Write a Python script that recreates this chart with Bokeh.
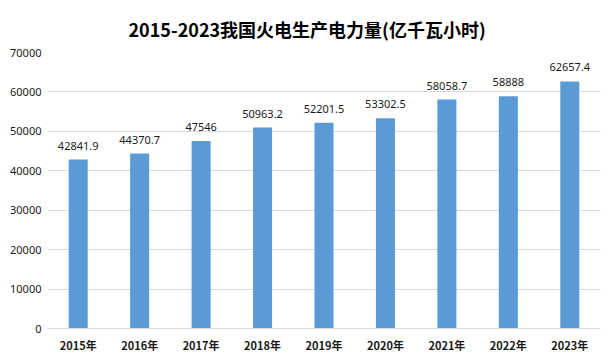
from bokeh.plotting import figure
from bokeh.models import ColumnDataSource, FactorRange, Range1d, LabelSet, FixedTicker, Title
from bokeh.core.properties import value
from bokeh.embed import file_html
from bokeh.resources import INLINE

years = ["2015年", "2016年", "2017年", "2018年", "2019年", "2020年", "2021年", "2022年", "2023年"]
values = [42841.9, 44370.7, 47546, 50963.2, 52201.5, 53302.5, 58058.7, 58888, 62657.4]
labels = ["42841.9", "44370.7", "47546", "50963.2", "52201.5", "53302.5", "58058.7", "58888", "62657.4"]
y_ticks = [0, 10000, 20000, 30000, 40000, 50000, 60000, 70000]
title_text = "2015-2023我国火电生产电力量(亿千瓦小时)"

src = ColumnDataSource(dict(x=years, y=values, lab=labels))

p = figure(width=604, height=355, output_backend="svg", toolbar_location=None,
           x_range=FactorRange(*years, range_padding=0), y_range=Range1d(0, 70000),
           min_border_left=47, min_border_right=4, min_border_top=52, min_border_bottom=26)
p.title = Title(text=title_text, align="left", vertical_align="top", text_font="Noto Sans CJK SC",
                text_font_size="18px", text_font_style="bold", text_color="#000000",
                offset=81, standoff=18)

p.vbar(x="x", top="y", width=0.31, source=src, color="#5B9BD5", line_color=None)

p.add_layout(LabelSet(x="x", y="y", text="lab", source=src, text_align="center",
                      text_baseline="middle", y_offset=14, text_font=value("Noto Sans"),
                      text_font_size=value("11px"), text_color="#1a1a1a"))

p.outline_line_color = None
p.xgrid.grid_line_color = None
p.ygrid.grid_line_color = "#D9D9D9"
p.ygrid.grid_line_width = 1
p.yaxis.ticker = FixedTicker(ticks=y_ticks)
p.yaxis.axis_line_color = None
p.yaxis.major_tick_line_color = None
p.yaxis.minor_tick_line_color = None
p.yaxis.major_tick_out = 0
p.yaxis.minor_tick_out = 0
p.yaxis.major_label_text_font = "Noto Sans"
p.yaxis.major_label_text_font_size = "11px"
p.yaxis.major_label_text_color = "#1a1a1a"
p.yaxis.major_label_standoff = 6

p.xaxis.axis_line_color = "#D9D9D9"
p.xaxis.major_tick_line_color = None
p.xaxis.minor_tick_line_color = None
p.xaxis.major_tick_out = 0
p.xaxis.minor_tick_out = 0
p.xaxis.major_label_text_font = "Noto Sans CJK SC"
p.xaxis.major_label_text_font_style = "bold"
p.xaxis.major_label_text_font_size = "11px"
p.xaxis.major_label_text_color = "#1a1a1a"
p.xaxis.major_label_standoff = 8

open("out.html", "w").write(file_html(p, INLINE))
